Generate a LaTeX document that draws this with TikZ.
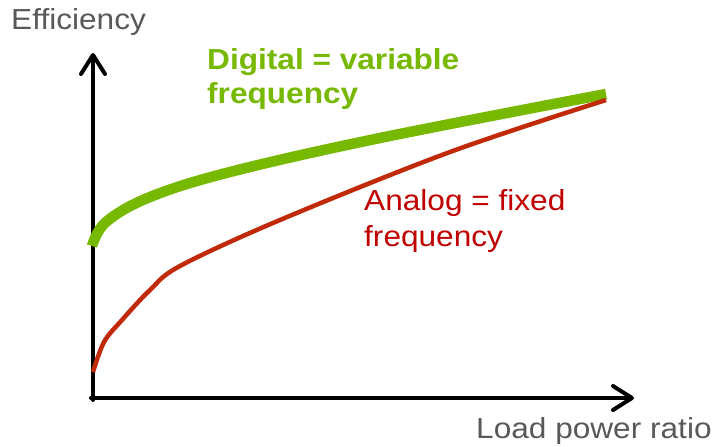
\documentclass[tikz,border=0pt]{standalone}
\usepackage{fontspec}
\setmainfont{Liberation Sans}
\newfontfamily\labfont[FakeStretch=1.09]{Liberation Sans}
\usetikzlibrary{arrows.meta}
\definecolor{nvgreen}{RGB}{118,185,0}
\definecolor{antext}{RGB}{192,0,0}
\definecolor{ancurve}{RGB}{192,42,8}
\definecolor{axtext}{RGB}{89,89,89}
\tikzset{
  axis/.style={line width=4pt, line cap=round, line join=round,
    -{Straight Barb[length=19pt, width=24pt, line width=4pt, round]}},
  lab/.style={inner sep=0pt, anchor=base west, font=\labfont\fontsize{29}{35}\selectfont},
  grncurve/.style={nvgreen, line width=10.5pt},
  redcurve/.style={ancurve, line width=4.5pt}
}
\begin{document}
\begin{tikzpicture}[x=1pt,y=-1pt]
\useasboundingbox (0,0) rectangle (715,447);
\coordinate (origin) at (93,398);
\coordinate (ytop) at (93,53);
\coordinate (xend) at (634,398);
\draw[axis] (93,400) -- (ytop);
\draw[axis] (91,398) -- (xend);
\draw[grncurve] plot[smooth, tension=0.6] coordinates {(92,246) (106,222) (150,197) (230,172) (380,138) (606,94)};
\draw[redcurve] plot[smooth, tension=0.55] coordinates {(93,372) (104,342) (122,320) (150,290) (180,266) (280,220) (450,152) (606,100)};
\node[lab, text=axtext] (eff) at (11,29) {Efficiency};
\node[lab, text=axtext] (lpr) at (476,438) {Load power ratio};
\node[lab, text=nvgreen, font=\labfont\bfseries\fontsize{29}{35}\selectfont] (dig1) at (207,69) {Digital = variable};
\node[lab, text=nvgreen, font=\labfont\bfseries\fontsize{29}{35}\selectfont] (dig2) at (207,103) {frequency};
\node[lab, text=antext] (ana1) at (364,210) {Analog = fixed};
\node[lab, text=antext] (ana2) at (364,246) {frequency};
\end{tikzpicture}
\end{document}
